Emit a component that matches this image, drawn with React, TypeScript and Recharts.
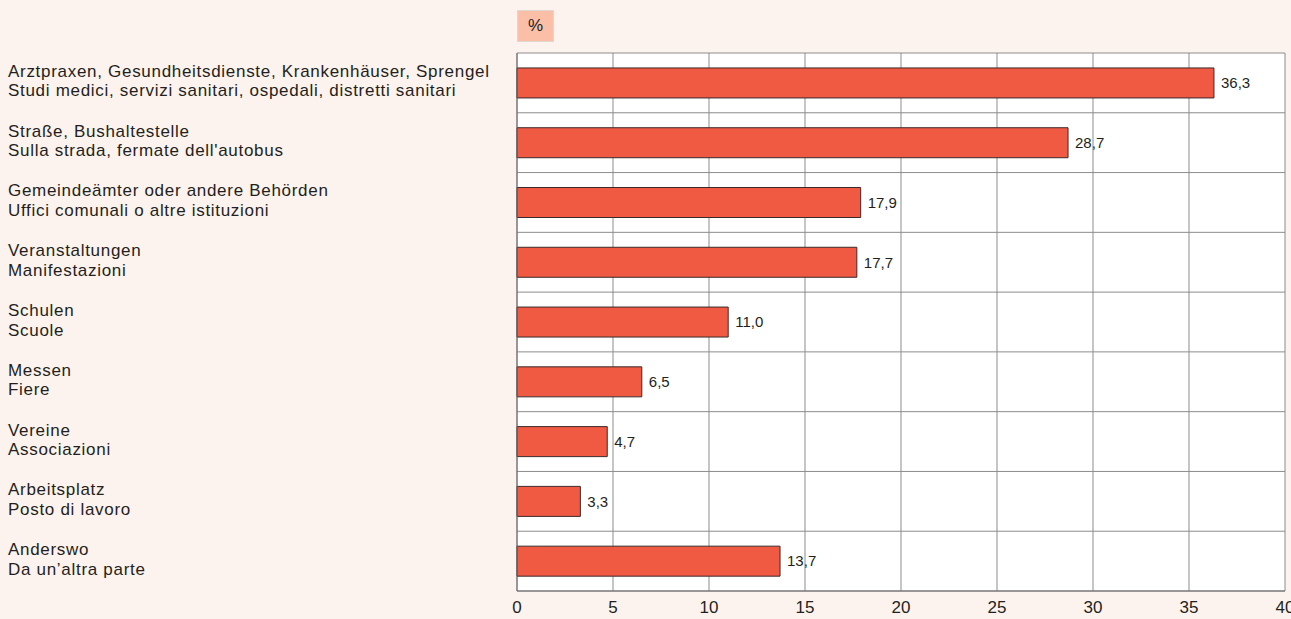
import { BarChart, Bar, XAxis, YAxis, CartesianGrid, LabelList } from "recharts";

const labelsDe = [
  "Arztpraxen, Gesundheitsdienste, Krankenhäuser, Sprengel",
  "Straße, Bushaltestelle",
  "Gemeindeämter oder andere Behörden",
  "Veranstaltungen",
  "Schulen",
  "Messen",
  "Vereine",
  "Arbeitsplatz",
  "Anderswo",
];
const labelsIt = [
  "Studi medici, servizi sanitari, ospedali, distretti sanitari",
  "Sulla strada, fermate dell'autobus",
  "Uffici comunali o altre istituzioni",
  "Manifestazioni",
  "Scuole",
  "Fiere",
  "Associazioni",
  "Posto di lavoro",
  "Da un’altra parte",
];
const values = [36.3, 28.7, 17.9, 17.7, 11.0, 6.5, 4.7, 3.3, 13.7];
const xTicks = [0, 5, 10, 15, 20, 25, 30, 35, 40];

const data = labelsDe.map((de, i) => ({ key: String(i), de, it: labelsIt[i], value: values[i] }));

const FONT = "Arial, 'Liberation Sans', Helvetica, sans-serif";

function CategoryTick(props: any) {
  const { y, payload } = props;
  const row = data[payload.index] ?? data[Number(payload.value)];
  return (
    <text x={8} y={y} textAnchor="start" fontFamily={FONT} fontSize={17} letterSpacing={0.7} fill="#231f20">
      <tspan x={8} dy={-6}>{row.de}</tspan>
      <tspan x={8} dy={19.5}>{row.it}</tspan>
    </text>
  );
}

export default function App() {
  return (
    <div
      style={{
        position: "fixed",
        left: 0,
        top: 0,
        width: 1291,
        height: 619,
        background: "#fdf3ee",
        overflow: "hidden",
      }}
    >
      <div
        style={{
          position: "absolute",
          left: 517,
          top: 10,
          width: 37,
          height: 32,
          background: "#fbbfa8",
          border: "1px solid #e3d6d0",
          boxSizing: "border-box",
          fontFamily: FONT,
          fontSize: 17,
          color: "#231f20",
          display: "flex",
          alignItems: "center",
          justifyContent: "center",
        }}
      >
        %
      </div>
      <BarChart
        width={1291}
        height={619}
        data={data}
        layout="vertical"
        margin={{ top: 53, right: 6, left: 0, bottom: 0 }}
        barCategoryGap="25%"
      >
        <CartesianGrid
          fill="#ffffff"
          stroke="#8c8c8c"
          strokeOpacity={1}
          horizontalCoordinatesGenerator={({ offset }: any) =>
            data.map((_, i) => offset.top + (i * offset.height) / data.length).concat(offset.top + offset.height)
          }
        />
        <XAxis
          type="number"
          domain={[0, 40]}
          ticks={xTicks}
          height={28}
          interval={0}
          tickLine={false}
          axisLine={{ stroke: "#6b6b6b" }}
          tick={{ fill: "#231f20", fontSize: 17, fontFamily: FONT, dy: 2 }}
        />
        <YAxis
          type="category"
          dataKey="key"
          width={517}
          tickLine={false}
          axisLine={{ stroke: "#6b6b6b" }}
          tick={<CategoryTick />}
          interval={0}
        />
        <Bar dataKey="value" fill="#f15a42" stroke="#3b2a2a" strokeWidth={1} isAnimationActive={false}>
          <LabelList
            dataKey="value"
            position="right"
            offset={7}
            formatter={(v: any) => Number(v).toFixed(1).replace(".", ",")}
            style={{ fill: "#231f20", fontSize: 15, fontFamily: FONT }}
          />
        </Bar>
      </BarChart>
    </div>
  );
}
